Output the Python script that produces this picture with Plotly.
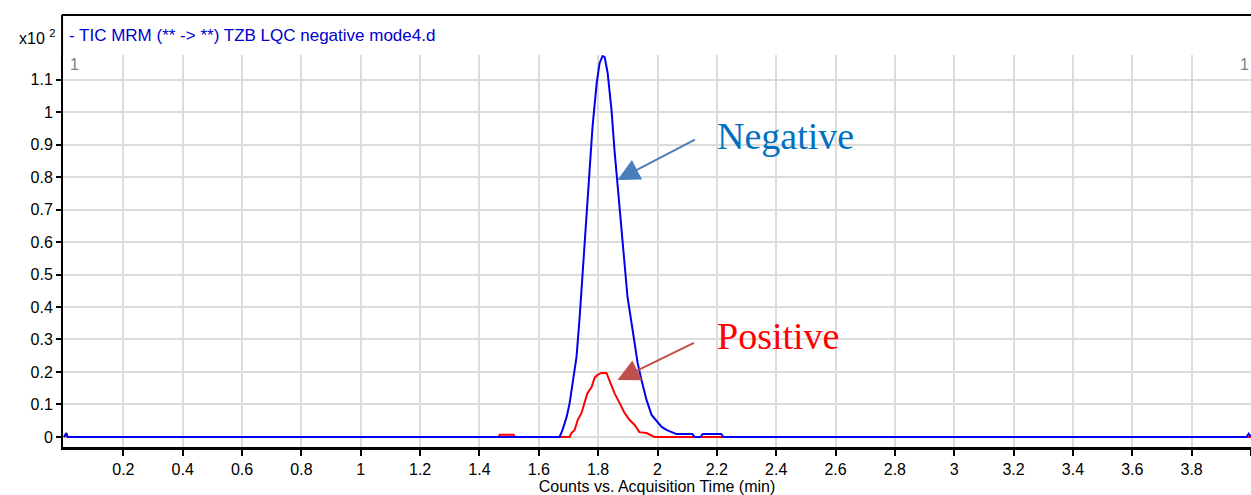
import plotly.graph_objects as go

# ---- data ----
neg_time = [0.0, 0.008, 0.012, 1.670, 1.680, 1.694, 1.704, 1.714, 1.727, 1.737,
            1.747, 1.761, 1.771, 1.781, 1.795, 1.805, 1.815, 1.822, 1.832, 1.845,
            1.855, 1.865, 1.879, 1.889, 1.899, 1.916, 1.933, 1.946, 1.963, 1.980,
            1.997, 2.014, 2.030, 2.064, 2.118, 2.125, 2.145, 2.152, 2.215, 2.222,
            3.985, 3.992, 4.0]
neg_vals = [0, 0.012, 0, 0, 0.022, 0.062, 0.105, 0.166, 0.246, 0.360,
            0.492, 0.689, 0.812, 0.954, 1.089, 1.151, 1.172, 1.169, 1.120, 1.006,
            0.883, 0.782, 0.637, 0.535, 0.430, 0.330, 0.228, 0.175, 0.114, 0.068,
            0.050, 0.031, 0.022, 0.009, 0.009, 0, 0, 0.009, 0.009, 0,
            0, 0.010, 0]

pos_time = [0.0, 0.008, 0.012, 1.466, 1.468, 1.515, 1.518, 1.704, 1.710, 1.721,
            1.731, 1.744, 1.754, 1.764, 1.778, 1.788, 1.798, 1.811, 1.828, 1.838,
            1.848, 1.855, 1.872, 1.889, 1.906, 1.923, 1.939, 1.963, 1.990, 4.0]
pos_vals = [0, 0.008, 0, 0, 0.007, 0.007, 0, 0, 0.012, 0.022,
            0.052, 0.074, 0.105, 0.135, 0.154, 0.182, 0.191, 0.197, 0.197, 0.175,
            0.154, 0.135, 0.105, 0.074, 0.052, 0.037, 0.015, 0.012, 0, 0]

x_tickvals = [0.2, 0.4, 0.6, 0.8, 1.0, 1.2, 1.4, 1.6, 1.8, 2.0, 2.2, 2.4, 2.6,
              2.8, 3.0, 3.2, 3.4, 3.6, 3.8, 4.0]
x_ticktext = ["0.2", "0.4", "0.6", "0.8", "1", "1.2", "1.4", "1.6", "1.8", "2",
              "2.2", "2.4", "2.6", "2.8", "3", "3.2", "3.4", "3.6", "3.8", "4"]
y_tickvals = [0, 0.1, 0.2, 0.3, 0.4, 0.5, 0.6, 0.7, 0.8, 0.9, 1.0, 1.1]
y_ticktext = ["0", "0.1", "0.2", "0.3", "0.4", "0.5", "0.6", "0.7", "0.8", "0.9", "1", "1.1"]

header_text = "- TIC MRM (** -> **) TZB LQC negative mode4.d"
x_title = "Counts vs. Acquisition Time (min)"

fig = go.Figure()
fig.add_trace(go.Scatter(x=pos_time, y=pos_vals, mode="lines",
                         line=dict(color="#ff0000", width=2), name="Positive"))
fig.add_trace(go.Scatter(x=neg_time, y=neg_vals, mode="lines",
                         line=dict(color="#0000ee", width=2), name="Negative"))

grid = "#dcdcdc"
fig.update_layout(
    width=1251, height=495,
    margin=dict(l=63, r=0, t=55, b=48),
    plot_bgcolor="white", paper_bgcolor="white",
    showlegend=False,
    font=dict(family="Liberation Sans, Arial, sans-serif", size=16, color="black"),
    xaxis=dict(range=[-0.0034, 4.0], tickvals=x_tickvals, ticktext=x_ticktext,
               showgrid=True, gridcolor=grid, gridwidth=1.5, zeroline=False,
               showline=True, linecolor="black", linewidth=3, automargin=False,
               ticks="outside", ticklen=6, tickwidth=1.5, tickcolor="black",
               title=dict(text=x_title, font=dict(size=16), standoff=4)),
    yaxis=dict(range=[-0.0308, 1.1754], tickvals=y_tickvals, ticktext=y_ticktext,
               showgrid=True, gridcolor=grid, gridwidth=1.5, zeroline=False,
               showline=True, linecolor="black", linewidth=2, automargin=False,
               ticks="outside", ticklen=5, tickwidth=1.5, tickcolor="black"),
)

# header frame above the plot
top_y = (447 - 15) / 392
fig.add_shape(type="line", xref="paper", yref="paper", x0=-0.001, x1=1.0,
              y0=top_y, y1=top_y, line=dict(color="black", width=2))
fig.add_shape(type="line", xref="paper", yref="paper", x0=-0.0008, x1=-0.0008,
              y0=1.0, y1=top_y, line=dict(color="black", width=2))

annotations = [
    dict(xref="paper", yref="paper", x=0.003, y=(447 - 35) / 392, text=header_text,
         showarrow=False, xanchor="left", yanchor="middle",
         font=dict(color="#0000cc", size=17)),
    dict(xref="paper", yref="paper", x=0, xshift=-6, y=(447 - 37) / 392,
         text="x10 <sup>2</sup>", showarrow=False, xanchor="right", yanchor="middle",
         font=dict(size=16)),
    dict(xref="paper", yref="paper", x=0.004, y=(447 - 65) / 392, text="1",
         showarrow=False, xanchor="left", yanchor="middle",
         font=dict(size=16, color="#808080")),
    dict(xref="paper", yref="paper", x=1.0, y=(447 - 65) / 392, text="1",
         showarrow=False, xanchor="right", yanchor="middle",
         font=dict(size=16, color="#808080")),
    # arrows
    dict(x=1.865, y=0.791, ax=79, ay=-41, text="", showarrow=True,
         arrowhead=2, arrowsize=2.2, arrowwidth=2, arrowcolor="#4a7ebb"),
    dict(x=1.865, y=0.175, ax=78, ay=-38, text="", showarrow=True,
         arrowhead=2, arrowsize=2.2, arrowwidth=2, arrowcolor="#c0504d"),
    # labels
    dict(x=2.195, y=0.926, text="Negative", showarrow=False, xanchor="left",
         yanchor="middle",
         font=dict(family="Liberation Serif, Times New Roman, serif", size=38, color="#0070c0")),
    dict(x=2.195, y=0.311, text="Positive", showarrow=False, xanchor="left",
         yanchor="middle",
         font=dict(family="Liberation Serif, Times New Roman, serif", size=38, color="#ff0000")),
]
fig.update_layout(annotations=annotations)

fig.write_html("out.html", config={"displayModeBar": False},
               post_script="document.body.style.margin='0px';document.body.style.padding='0px';")
